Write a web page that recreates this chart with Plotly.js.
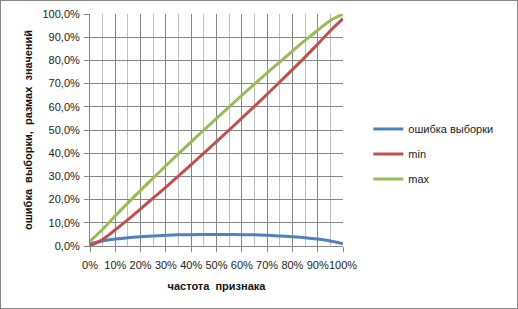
<!DOCTYPE html>
<html>
<head>
<meta charset="utf-8">
<script src="https://cdn.plot.ly/plotly-3.0.1.min.js"></script>
<style>
html,body{margin:0;padding:0;background:#fff;}
#chart{width:516px;height:307px;border:1px solid #868686;}
</style>
</head>
<body>
<div id="chart"></div>
<script>
// x positions (share of feature frequency)
const xVals = [0,0.05,0.10,0.15,0.20,0.25,0.30,0.35,0.40,0.45,0.50,0.55,0.60,0.65,0.70,0.75,0.80,0.85,0.90,0.95,1.00];
// sampling error, %
const errorVals = [1.0,2.2,3.0,3.6,4.0,4.3,4.6,4.8,4.9,5.0,5.0,5.0,4.9,4.8,4.6,4.3,4.0,3.6,3.0,2.2,1.0];
// min, %
const minVals = [0,2.8,7.0,11.4,16.0,20.7,25.4,30.2,35.1,40.0,45.0,50.0,55.1,60.2,65.4,70.7,76.0,81.4,87.0,92.8,98.0];
// max, %
const maxVals = [2.0,7.2,13.0,18.6,24.0,29.3,34.6,39.8,44.9,50.0,55.0,60.0,64.9,69.8,74.6,79.3,84.0,88.6,93.0,97.2,100.0];

const seriesNames = ['ошибка выборки','min','max'];
const xTitle = 'частота  признака';
const yTitle = 'ошибка  выборки,  размах  значений';

const toFrac = a => a.map(v => v/100);
const colors = ['#4F81BD','#C0504D','#9BBB59'];
const data = [errorVals, minVals, maxVals].map((arr,i) => ({
  x: xVals, y: toFrac(arr), name: seriesNames[i], type:'scatter', mode:'lines',
  line:{color:colors[i], width:3, shape:'spline'}, legendgroup:'g'+i
}));

const font = {family:'Liberation Sans, Arial, sans-serif', size:11, color:'#222'};
const layout = {
  width:516, height:307,
  margin:{l:89, r:174, t:13, b:62},
  separators:', ',
  font: font,
  paper_bgcolor:'#fff', plot_bgcolor:'#fff',
  showlegend:true,
  legend:{x:1.10, y:0.397, yanchor:'middle', xanchor:'left', font:font, tracegroupgap:6, bgcolor:'rgba(0,0,0,0)'},
  xaxis:{
    range:[0,1], dtick:0.1, tick0:0, tickformat:'.0%', tickangle:0,
    tickfont:{family:font.family, size:11, color:'#222'},
    ticklabelstandoff:4,
    showgrid:true, gridcolor:'#878787', gridwidth:1,
    minor:{dtick:0.05, showgrid:true, gridcolor:'#BEBEBE', gridwidth:1},
    ticks:'outside', ticklen:5, tickcolor:'#878787',
    showline:true, linecolor:'#878787', linewidth:1,
    zeroline:false, fixedrange:true,
    title:{text:xTitle, font:{family:font.family, size:11, color:'#111', weight:'bold'}, standoff:12}
  },
  yaxis:{
    range:[0,1], dtick:0.1, tick0:0, tickformat:'.1%',
    ticklabelstandoff:2,
    showgrid:true, gridcolor:'#878787', gridwidth:1,
    ticks:'outside', ticklen:5, tickcolor:'#878787',
    showline:true, linecolor:'#878787', linewidth:1,
    zeroline:false, fixedrange:true,
    title:{text:yTitle, font:{family:font.family, size:11, color:'#111', weight:'bold'}, standoff:7}
  }
};
Plotly.newPlot('chart', data, layout, {displayModeBar:false, staticPlot:true});
</script>
</body>
</html>
